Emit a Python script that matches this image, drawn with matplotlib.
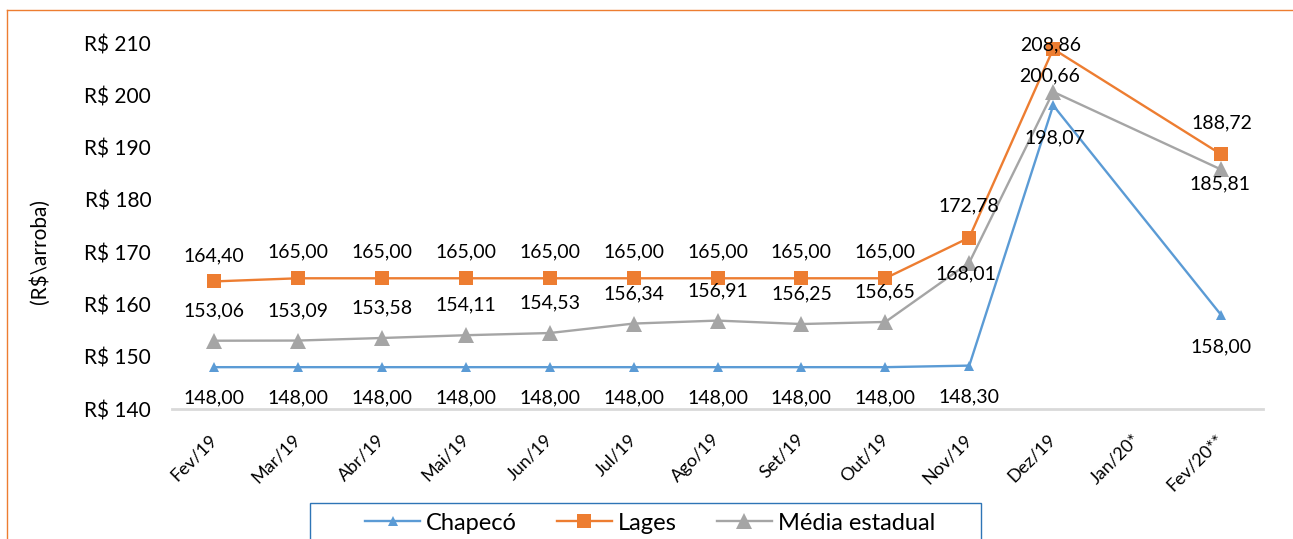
import matplotlib
matplotlib.use("Agg")
import matplotlib.pyplot as plt
from matplotlib.lines import Line2D
from matplotlib.patches import Rectangle
import numpy as np

plt.rcParams["font.family"] = ["Lato", "DejaVu Sans"]

# ── Data ──────────────────────────────────────────────────────────────────────
months = ["Fev/19", "Mar/19", "Abr/19", "Mai/19", "Jun/19", "Jul/19", "Ago/19",
          "Set/19", "Out/19", "Nov/19", "Dez/19", "Jan/20*", "Fev/20**"]
chapeco = [148.00, 148.00, 148.00, 148.00, 148.00, 148.00, 148.00,
           148.00, 148.00, 148.30, 198.07, np.nan, 158.00]
lages = [164.40, 165.00, 165.00, 165.00, 165.00, 165.00, 165.00,
         165.00, 165.00, 172.78, 208.86, np.nan, 188.72]
media = [153.06, 153.09, 153.58, 154.11, 154.53, 156.34, 156.91,
         156.25, 156.65, 168.01, 200.66, np.nan, 185.81]

BLUE, ORANGE, GRAY = "#5B9BD5", "#ED7D31", "#A5A5A5"
W, H = 1293, 539

fig = plt.figure(figsize=(W / 100, H / 100), dpi=100)
ax = fig.add_axes([172 / W, 1 - 409 / H, (1263 - 172) / W, (409 - 43) / H])

x = np.arange(len(months))


def draw(vals, color, marker, ms):
    v = np.array(vals, dtype=float)
    ok = ~np.isnan(v)
    ax.plot(x[ok], v[ok], color=color, lw=1.7, marker=marker, ms=ms,
            markeredgewidth=0, clip_on=False, zorder=3)
    return v


c = draw(chapeco, BLUE, "^", 7)
l = draw(lages, ORANGE, "s", 10)
m = draw(media, GRAY, "^", 11)


def fmt(v):
    return f"{v:.2f}".replace(".", ",")


# ── Data labels (pixel offsets from each point) ───────────────────────────────
def labels(v, offs):
    for i, val in enumerate(v):
        if np.isnan(val):
            continue
        dx, dy = offs.get(i, (0, 0))
        ax.annotate(fmt(val), (i, val), xytext=(dx, dy), textcoords="offset pixels",
                    ha="center", va="center", fontsize=14, zorder=5,
                    annotation_clip=False)


labels(c, {**{i: (0, -31) for i in range(13)}, 10: (2, -32), 12: (0, -32)})
labels(l, {**{i: (0, 26) for i in range(13)}, 9: (0, 32), 10: (-3, 4), 12: (1, 31)})
labels(m, {**{i: (0, 30) for i in range(13)}, 9: (-3, -11), 10: (-4, 16), 12: (-1, -14)})

# ── Axes styling ──────────────────────────────────────────────────────────────
ax.set_xlim(-0.5, len(months) - 0.5)
ax.set_ylim(140, 210)
ax.set_yticks(np.arange(140, 211, 10))
ax.set_yticklabels([f"R$ {t}" for t in range(140, 211, 10)])
ax.tick_params(axis="y", length=0, pad=15, labelsize=15)
ax.set_xticks(x)
ax.set_xticklabels(months, rotation=45, ha="right", va="center",
                   rotation_mode="anchor")
ax.tick_params(axis="x", length=0, pad=20, labelsize=13)
for s in ["top", "right", "left"]:
    ax.spines[s].set_visible(False)
ax.spines["bottom"].set_color("#D9D9D9")
ax.spines["bottom"].set_linewidth(2)

fig.text(40 / W, 1 - 252 / H, "(R$\\arroba)", rotation=90,
         ha="center", va="center", fontsize=15)

# ── Legend (box drawn separately, it runs off the bottom edge) ───────────────
fig.add_artist(Rectangle((310 / W, -0.05), (981 - 310) / W, 0.05 + 1 - 503 / H,
                         transform=fig.transFigure, fill=False,
                         edgecolor="#2E75B6", lw=1.0))
handles = [
    Line2D([], [], color=BLUE, lw=1.7, marker="^", ms=7, markeredgewidth=0),
    Line2D([], [], color=ORANGE, lw=1.7, marker="s", ms=10, markeredgewidth=0),
    Line2D([], [], color=GRAY, lw=1.7, marker="^", ms=11, markeredgewidth=0),
]
fig.legend(handles, ["Chapecó", "Lages", "Média estadual"], ncol=3,
           loc="center left", bbox_to_anchor=(365 / W, 1 - 523 / H),
           frameon=False, fontsize=17, handlelength=2.33,
           columnspacing=1.7, handletextpad=0.25, borderpad=0,
           borderaxespad=0)

# ── Outer frame (top and left only visible) ───────────────────────────────────
fig.add_artist(Line2D([7 / W, 1], [1 - 10 / H] * 2, transform=fig.transFigure,
                      color=ORANGE, lw=1))
fig.add_artist(Line2D([7 / W] * 2, [0, 1 - 10 / H], transform=fig.transFigure,
                      color=ORANGE, lw=1))

fig.savefig("out.png", dpi=100)
